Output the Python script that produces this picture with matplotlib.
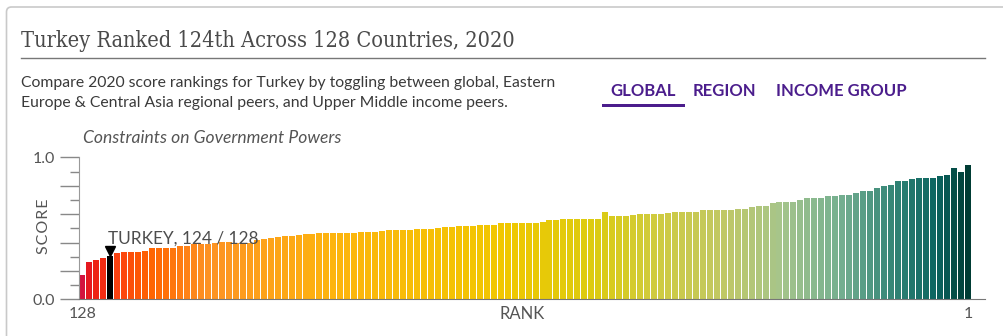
import numpy as np
import matplotlib
matplotlib.use("Agg")
import matplotlib.pyplot as plt
import matplotlib.transforms as mtransforms
from matplotlib.colors import LinearSegmentedColormap
from matplotlib.patches import FancyBboxPatch, Rectangle
from matplotlib.lines import Line2D

# ---------------------------------------------------------------
#  data: factor score per country, ordered from rank 128 to rank 1
# ---------------------------------------------------------------
ranks = np.arange(128, 0, -1)
scores = [
    0.172, 0.265, 0.275, 0.294, 0.306, 0.325, 0.335, 0.335, 0.335, 0.343,
    0.363, 0.363, 0.363, 0.363, 0.375, 0.375, 0.387, 0.387, 0.387, 0.395,
    0.403, 0.403, 0.395, 0.395, 0.395, 0.415, 0.425, 0.434, 0.436, 0.446,
    0.446, 0.456, 0.458, 0.458, 0.465, 0.466, 0.466, 0.466, 0.466, 0.466,
    0.474, 0.476, 0.476, 0.484, 0.488, 0.488, 0.488, 0.488, 0.495, 0.497,
    0.497, 0.505, 0.507, 0.507, 0.514, 0.516, 0.516, 0.524, 0.525, 0.525,
    0.535, 0.535, 0.535, 0.535, 0.535, 0.535, 0.545, 0.555, 0.556, 0.564,
    0.565, 0.565, 0.565, 0.565, 0.565, 0.615, 0.587, 0.587, 0.587, 0.595,
    0.604, 0.604, 0.604, 0.604, 0.605, 0.616, 0.616, 0.616, 0.617, 0.627,
    0.627, 0.627, 0.627, 0.627, 0.636, 0.636, 0.648, 0.657, 0.657, 0.676,
    0.685, 0.685, 0.685, 0.697, 0.716, 0.716, 0.716, 0.725, 0.725, 0.735,
    0.735, 0.746, 0.765, 0.765, 0.786, 0.796, 0.807, 0.836, 0.836, 0.847,
    0.857, 0.857, 0.857, 0.866, 0.877, 0.927, 0.898, 0.947,
]
country = "Turkey"
country_rank = 124
n_countries = len(scores)
tabs = ["GLOBAL", "REGION", "INCOME GROUP"]
desc_lines = [
    "Compare 2020 score rankings for Turkey by toggling between global, Eastern",
    "Europe & Central Asia regional peers, and Upper Middle income peers.",
]

# colour ramp low score -> high score
ramp = LinearSegmentedColormap.from_list("wjp", [
    (0.00, "#d3123e"), (0.01, "#ea1a16"), (0.04, "#fb4210"),
    (0.08, "#ff6600"), (0.14, "#fd9224"), (0.28, "#fdb40e"),
    (0.47, "#f1c700"), (0.58, "#dccb10"), (0.65, "#cfcb40"),
    (0.72, "#c2c862"), (0.79, "#a6c58b"), (0.86, "#72ae90"),
    (0.92, "#2f8274"), (0.965, "#0b6460"), (1.00, "#003c34"),
])

W, H = 1004, 336
fig = plt.figure(figsize=(W / 100, H / 100), dpi=100)
fig.patch.set_facecolor("white")


def fx(x):
    return x / W


def fy(y):
    return 1 - y / H


def fit_width(txt, target_px):
    # shrink/grow a text so it spans target_px
    r = fig.canvas.get_renderer()
    w = txt.get_window_extent(r).width
    txt.set_fontsize(txt.get_fontsize() * target_px / w)


GREY = "#555555"
PURPLE = "#4b1d8c"

# card outline
fig.patches.append(FancyBboxPatch(
    (0.065, -0.2), 10.2, 3.49, boxstyle="round,pad=0,rounding_size=0.05",
    transform=fig.dpi_scale_trans, facecolor="none", edgecolor="#c9c9c9",
    lw=1.2))

title = fig.text(fx(21), fy(47),
                 f"{country} Ranked {country_rank}th Across {n_countries} Countries, 2020",
                 family="DejaVu Serif", fontstretch="condensed", fontsize=16,
                 color="#4a4a4a", va="baseline")
fit_width(title, 495)
fig.lines.append(Line2D([fx(21), fx(985)], [fy(58), fy(58)],
                        transform=fig.transFigure, color="#777777", lw=1))

for line, yb in zip(desc_lines, [87, 107]):
    t = fig.text(fx(21), fy(yb), line, family="Lato", fontsize=11,
                 color="#3a3a3a", va="baseline")
    if yb == 87:
        fit_width(t, 536)
        desc_size = t.get_fontsize()
    else:
        t.set_fontsize(desc_size)

for label, x in zip(tabs, [610, 693, 776]):
    fig.text(fx(x), fy(96.5), label, family="Lato", fontweight="bold",
             fontsize=12, color=PURPLE, va="baseline")
fig.patches.append(Rectangle((fx(602), fy(106.5)), fx(83), 3 / H,
                             transform=fig.transFigure, color=PURPLE, lw=0))

sub = fig.text(fx(83), fy(143), "Constraints on Government Powers", family="Lato",
               style="italic", fontsize=11, color=GREY, va="baseline")
fit_width(sub, 257)

# chart area
ax = fig.add_axes([fx(79), fy(299.3), fx(985 - 79), (299.3 - 157.3) / H])
x = np.arange(n_countries)
colors = [ramp(i / (n_countries - 1)) for i in range(n_countries)]
turkey_idx = list(ranks).index(country_rank)
colors[turkey_idx] = "#000000"
ax.bar(x, scores, width=0.86, color=colors, linewidth=0)

ax.set_xlim(-0.5, -0.5 + (985 - 79) / 6.97)
ax.set_ylim(0, 1)
for s in ["top", "right"]:
    ax.spines[s].set_visible(False)
ax.spines["bottom"].set_color("#777777")
ax.spines["left"].set_color("#999999")
ax.set_yticks(np.arange(0, 1.01, 0.2))
ax.set_yticklabels(["0.0", "", "", "", "", "1.0"])
ax.set_yticks(np.arange(0.1, 1.0, 0.2), minor=True)
ax.tick_params(axis="y", which="major", length=13.7, color="#888888", width=1,
               labelsize=11.5, labelcolor=GREY, pad=3.5)
ax.tick_params(axis="y", which="minor", length=6.5, color="#888888", width=1)
for t in ax.get_yticklabels():
    t.set_family("Lato")
ax.set_xticks([])

fig.text(fx(44.5), fy(226.5), "S C O R E".replace(" ", "\u200a"), family="Lato",
         fontsize=11.5, color=GREY, rotation=90, ha="center", va="center")
fig.text(fx(82.7), fy(314), str(ranks[0]), family="Lato", fontsize=11.5,
         color=GREY, ha="center", va="center")
fig.text(fx(968), fy(314), str(ranks[-1]), family="Lato", fontsize=11.5,
         color=GREY, ha="center", va="center")
fig.text(fx(522), fy(314), "RANK", family="Lato", fontsize=12,
         color=GREY, ha="center", va="center")

# highlight marker + label
ts = scores[turkey_idx]
ax.plot([turkey_idx], [ts], marker="v", markersize=6.5, color="black",
        transform=ax.transData + mtransforms.ScaledTranslation(0, 5 / 100, fig.dpi_scale_trans),
        clip_on=False)
lab = ax.annotate(f"{country.upper()}, {country_rank} / {n_countries}",
                  xy=(turkey_idx, ts), xytext=(-1.8, 8.5), textcoords="offset points",
                  family="Lato", fontsize=12, color="#4d4d4d", va="baseline",
                  ha="left")
fit_width(lab, 150)

fig.savefig("out.png", dpi=100)
